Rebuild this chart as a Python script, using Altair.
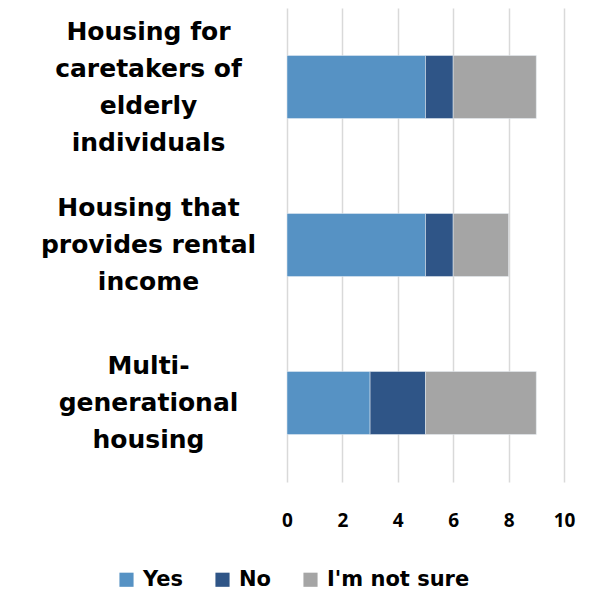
import altair as alt
import pandas as pd

categories = [
    "Housing for|caretakers of|elderly|individuals",
    "Housing that|provides rental|income",
    "Multi-|generational|housing",
]
series = ["Yes", "No", "I'm not sure"]
yes_vals = [5, 5, 3]
no_vals = [1, 1, 2]
unsure_vals = [3, 2, 4]
colors = ["#5692c4", "#2f5587", "#a5a5a5"]

rows = []
for i, c in enumerate(categories):
    for j, (s, v) in enumerate(zip(series, [yes_vals[i], no_vals[i], unsure_vals[i]])):
        rows.append({"category": c, "series": s, "value": v, "order": j})
df = pd.DataFrame(rows)

LINE_H = 37

chart = alt.Chart(df).mark_bar(size=63, stroke="#e8eef5", strokeWidth=0.5).encode(
    y=alt.Y(
        "category:N",
        sort=categories,
        title=None,
        scale=alt.Scale(paddingInner=0, paddingOuter=0),
        axis=alt.Axis(
            domain=False,
            ticks=False,
            labelExpr="split(datum.label, '|')",
            labelAlign="center",
            labelBaseline="middle",
            labelPadding=139,
            labelOffset={
                "condition": {"test": "indexof(datum.value, 'elderly') >= 0", "value": -1.5 * LINE_H},
                "value": -1.0 * LINE_H,
            },
            labelFont="DejaVu Sans",
            labelFontWeight="bold",
            labelFontSize=25,
            labelLineHeight=LINE_H,
            labelColor="#000000",
            labelLimit=400,
        ),
    ),
    x=alt.X(
        "value:Q",
        stack="zero",
        title=None,
        scale=alt.Scale(domain=[0, 10], nice=False),
        axis=alt.Axis(
            values=[0, 2, 4, 6, 8, 10],
            domain=False,
            ticks=False,
            grid=True,
            gridColor="#d9d9d9",
            gridWidth=1.5,
            labelFlush=False,
            labelPadding=29,
            labelFont="Open Sans",
            labelFontWeight="bold",
            labelFontSize=19,
            labelColor="#000000",
        ),
    ),
    color=alt.Color(
        "series:N",
        sort=series,
        scale=alt.Scale(domain=series, range=colors),
        legend=alt.Legend(
            title=None,
            orient="none",
            direction="horizontal",
            legendX=-171,
            legendY=561,
            symbolType="square",
            symbolSize=200,
            symbolStrokeWidth=0,
            labelFont="DejaVu Sans",
            labelFontWeight="bold",
            labelFontSize=21,
            labelColor="#000000",
            labelOffset=6,
            columnPadding=28,
            labelLimit=300,
        ),
    ),
    order=alt.Order("order:Q"),
).properties(
    width=277,
    height=474,
    autosize=alt.AutoSizeParams(type="none"),
    padding={"left": 279, "top": 0, "right": 20, "bottom": 112},
).configure_view(stroke=None)

chart.save("out.html", embed_options={"renderer": "svg", "actions": False})
